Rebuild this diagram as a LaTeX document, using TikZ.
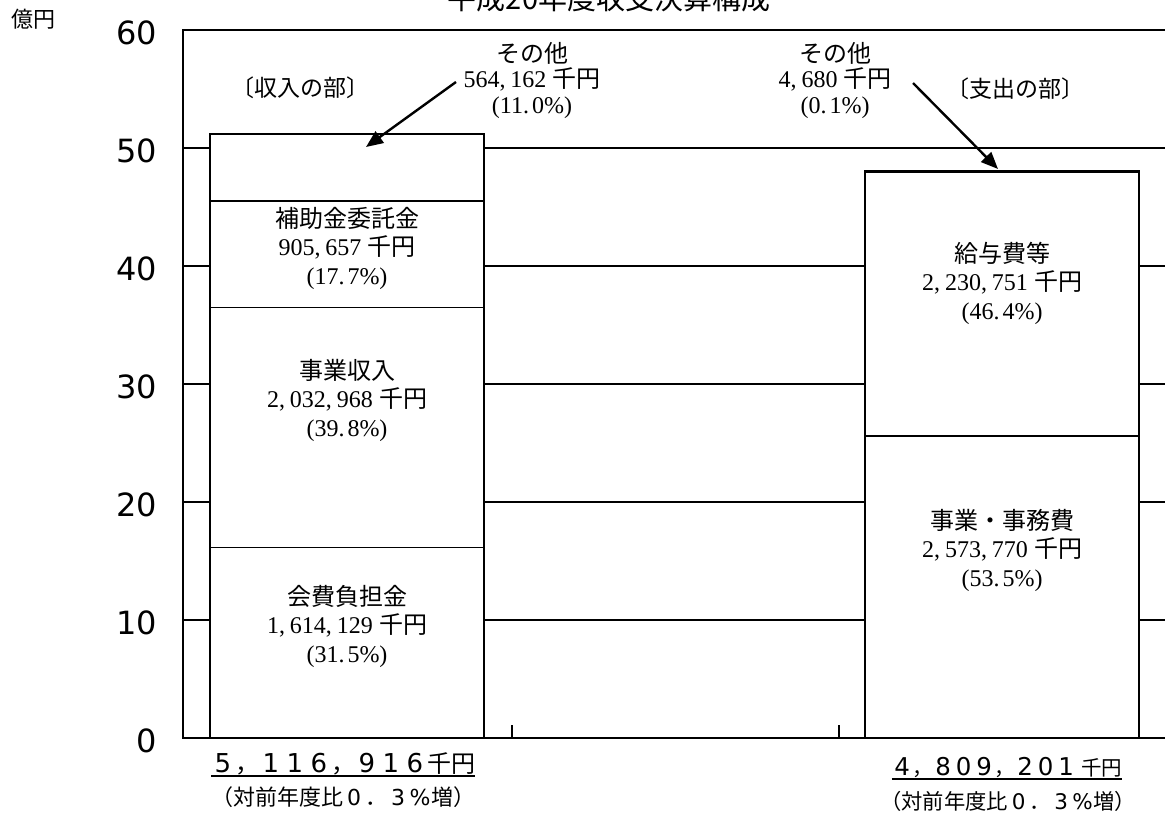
\documentclass[tikz,border=0pt]{standalone}
\usepackage{fontspec}
\setmainfont{Liberation Serif}
\newfontfamily\jp{Noto Sans CJK JP}
\newfontfamily\axisfont{DejaVu Sans}
\usetikzlibrary{arrows.meta}
\newcommand\myul[1]{\setbox0\hbox{#1}\rlap{\raisebox{-5pt}{\rule{\wd0}{2pt}}}\box0}
\def\dsz{26}
\newcommand\fd[1]{\makebox[1em]{\axisfont\fontsize{\dsz}{\dsz}\selectfont #1}}
\newcommand\nc{,\kern5pt}
\newcommand\np{.\kern3pt}
\begin{document}
\begin{tikzpicture}[x=1pt,y=-1pt,
  axisline/.style={line width=1.8pt},
  seg/.style={draw,line width=1.6pt,fill=white},
  lbl/.style={align=center,inner sep=0pt,font=\fontsize{24}{28.5}\selectfont},
  toplbl/.style={align=center,inner sep=0pt,font=\fontsize{24}{25.5}\selectfont},
  part/.style={inner sep=0pt,font=\jp\fontsize{23}{23}\selectfont},
  ylab/.style={anchor=east,inner sep=0pt,font=\axisfont\fontsize{32}{32}\selectfont},
  callout/.style={line width=2.4pt,-{Triangle[length=17pt,width=14pt]}},
]
\useasboundingbox (0,0) rectangle (1165,814);
% title (cut at top)
\node[inner sep=0pt,anchor=base,font=\jp\fontsize{29}{29}\selectfont] (title) at (609,9) {平成20年度収支決算構成};
\node[inner sep=0pt,font=\jp\fontsize{22}{22}\selectfont] (unit) at (34,19) {億円};
% grid and frame
\foreach \yy in {148,266,384,502,620} {\draw[axisline] (183,\yy) -- (1170,\yy);}
\draw[axisline] (1170,30) -- (183,30) -- (183,738) -- (1170,738);
\draw[axisline] (512,725) -- (512,738);
\draw[axisline] (839,725) -- (839,738);
% y labels
\node[ylab] (y60) at (157,33) {60};
\node[ylab] (y50) at (157,151) {50};
\node[ylab] (y40) at (157,269) {40};
\node[ylab] (y30) at (157,387) {30};
\node[ylab] (y20) at (157,505) {20};
\node[ylab] (y10) at (157,623) {10};
\node[ylab] (y0) at (157,741) {0};
% left bar
\draw[seg] (210,738) rectangle (484,547.5);
\draw[seg] (210,547.5) rectangle (484,307.6);
\draw[seg] (210,307.6) rectangle (484,200.8);
\draw[seg] (210,200.8) rectangle (484,134.2);
% right bar
\draw[seg] (865,738) rectangle (1139,436);
\draw[seg] (865,436) rectangle (1139,172.5);
\draw[seg] (865,172.5) rectangle (1139,171);
% bar labels
\node[lbl] (kaihi) at (347,626) {{\jp 会費負担金}\\1\nc 614\nc 129 {\jp 千円}\\(31\np 5\%)};
\node[lbl] (jigyo) at (347,400) {{\jp 事業収入}\\2\nc 032\nc 968 {\jp 千円}\\(39\np 8\%)};
\node[lbl] (hojo) at (347,248) {{\jp 補助金委託金}\\905\nc 657 {\jp 千円}\\(17\np 7\%)};
\node[lbl] (kyuyo) at (1002,283) {{\jp 給与費等}\\2\nc 230\nc 751 {\jp 千円}\\(46\np 4\%)};
\node[lbl] (jimu) at (1002,550) {{\jp 事業・事務費}\\2\nc 573\nc 770 {\jp 千円}\\(53\np 5\%)};
% top labels
\node[toplbl] (sonota1) at (532,80) {{\jp その他}\\564\nc 162 {\jp 千円}\\(11\np 0\%)};
\node[toplbl] (sonota2) at (835,80) {{\jp その他}\\4\nc 680 {\jp 千円}\\(0\np 1\%)};
\node[part] (shunyu) at (300,88) {〔収入の部〕};
\node[part] (shishutsu) at (1015,89) {〔支出の部〕};
% callouts
\coordinate (a1s) at (456,82);
\coordinate (a1e) at (366,147);
\coordinate (a2s) at (913,83);
\coordinate (a2e) at (998,169);
\draw[callout] (a1s) -- (a1e);
\draw[callout] (a2s) -- (a2e);
% totals
\node[inner sep=0pt,anchor=base,font=\jp\fontsize{24}{24}\selectfont\def\dsz{26}] (tot1) at (343,772) {\myul{\fd5，\fd1\fd1\fd6，\fd9\fd1\fd6千円}};
\node[inner sep=0pt,font=\jp\fontsize{22}{22}\selectfont\def\dsz{22}] (cmp1) at (343,797) {（対前年度比\fd0．\fd3\fd\%増）};
\node[inner sep=0pt,anchor=base,font=\jp\fontsize{20.5}{20.5}\selectfont\def\dsz{24.5}] (tot2) at (1007,775) {\myul{\fd4，\fd8\fd0\fd9，\fd2\fd0\fd1 千円}};
\node[inner sep=0pt,font=\jp\fontsize{21.3}{21.3}\selectfont\def\dsz{21.5}] (cmp2) at (1008,801) {（対前年度比\fd0．\fd3\fd\%増）};
\end{tikzpicture}
\end{document}
